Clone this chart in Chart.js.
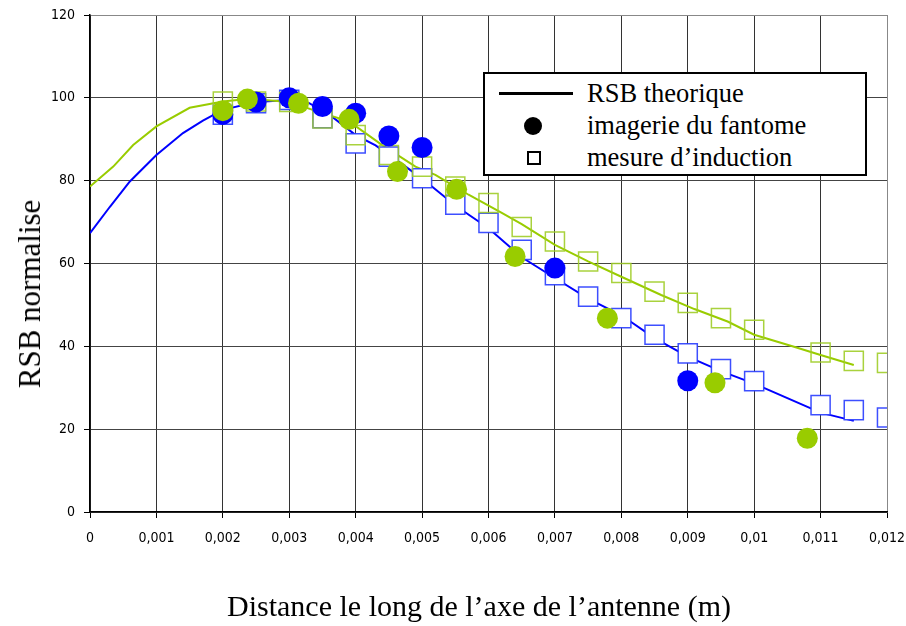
<!DOCTYPE html>
<html>
<head>
<meta charset="utf-8">
<script src="https://cdn.jsdelivr.net/npm/chart.js@4.4.1/dist/chart.umd.min.js"></script>
<style>
    body { margin: 0; background: #fff; }
    #wrap { position: relative; width: 906px; height: 626px; }
    .serif { font-family: 'Liberation Serif', 'Times New Roman', serif; color: #000; position: absolute; white-space: nowrap; }
    #ytitle { font-size: 31px; left: 30px; top: 294px; transform: translate(-50%, -50%) rotate(-90deg); }
    #xtitle { font-size: 30px; left: 479px; top: 606px; transform: translate(-50%, -50%); }
    #legend { position: absolute; left: 483px; top: 72px; width: 380px; height: 100px; border: 2px solid #000; background: #fff; }
    #legend .row { position: absolute; left: 102px; font-size: 26.5px; line-height: 26px; }
</style>
</head>
<body>
<div id="wrap">
    <canvas id="rsbChart" width="906" height="626"></canvas>
    <div id="ytitle" class="serif">RSB normalise</div>
    <div id="xtitle" class="serif">Distance le long de l’axe de l’antenne (m)</div>
    <div id="legend">
        <div style="position:absolute;left:14px;top:18px;width:74px;height:3px;background:#000"></div>
        <div style="position:absolute;left:39px;top:43px;width:18px;height:18px;border-radius:50%;background:#000"></div>
        <div style="position:absolute;left:42px;top:77px;width:10px;height:10px;border:2px solid #000"></div>
        <div class="row serif" style="top:6px">RSB theorique</div>
        <div class="row serif" style="top:38px">imagerie du fantome</div>
        <div class="row serif" style="top:70px">mesure d’induction</div>
    </div>
</div>
<script>
// Theoretical SNR curves
const theoBleuX = [0, 0.0003, 0.0006, 0.001, 0.0014, 0.0017, 0.002, 0.0025, 0.003, 0.0033, 0.0036, 0.004, 0.0043, 0.0047, 0.005, 0.0055, 0.006, 0.0065, 0.007, 0.0075, 0.008, 0.0085, 0.009, 0.0095, 0.01, 0.0105, 0.011, 0.0115];
const theoBleuY = [67.3, 73.7, 79.8, 86.2, 91.5, 94.5, 97.1, 99, 99.5, 98.7, 96, 91, 88.5, 84, 80.5, 74, 68.5, 61.5, 56.5, 51.5, 47.5, 42, 37.5, 34, 31, 27.5, 24, 22];
const theoVertX = [0, 0.00035, 0.00065, 0.001, 0.0015, 0.002, 0.0024, 0.003, 0.0035, 0.0039, 0.0044, 0.0049, 0.0052, 0.0057, 0.0062, 0.0065, 0.007, 0.0075, 0.008, 0.0086, 0.0091, 0.0096, 0.01, 0.0106, 0.011, 0.0115];
const theoVertY = [78.6, 83.4, 88.6, 93.1, 97.6, 99.1, 99.8, 99, 96.3, 94.3, 88.6, 83.4, 81.4, 76.6, 72.2, 69.5, 64.5, 60.5, 56.8, 52.4, 49, 46, 42.8, 39.9, 37.9, 35.5];

// Induction measurements (squares)
const inductionX = [0.002, 0.0025, 0.003, 0.0035, 0.004, 0.0045, 0.005, 0.0055, 0.006, 0.0065, 0.007, 0.0075, 0.008, 0.0085, 0.009, 0.0095, 0.01, 0.011, 0.0115, 0.012];
const inductionBleu = [95.9, 98.7, 99.5, 95.1, 89, 85.8, 80.6, 74.2, 69.8, 63.3, 57.2, 52, 46.8, 42.8, 38.3, 34.5, 31.6, 25.8, 24.6, 22.8];
const inductionVert = [99.1, 99.1, 99, 95, 91, 86.2, 83.4, 78.6, 74.6, 68.8, 65.3, 60.5, 57.7, 53.2, 50.5, 46.8, 44, 38.5, 36.5, 36];

// Phantom imaging (dots)
const fantomeBleuX = [0.002, 0.0025, 0.003, 0.0035, 0.004, 0.0045, 0.005, 0.007, 0.009];
const fantomeBleuY = [96, 99, 100, 97.9, 96.3, 90.8, 88, 58.9, 31.7];
const fantomeVertX = [0.002, 0.00237, 0.00314, 0.0039, 0.00463, 0.00552, 0.0064, 0.00779, 0.00941, 0.0108];
const fantomeVertY = [96.9, 99.7, 98.7, 94.8, 82.2, 77.9, 61.7, 46.8, 31.2, 17.8];

const BLEU = '#0000ff';
const VERT = '#99cc00';

function pts(xs, ys) {
    return xs.map((x, i) => ({ x: x, y: ys[i] }));
}

const tickFont = { family: "'Liberation Sans Narrow', 'Arial Narrow', 'DejaVu Sans Condensed', sans-serif", size: 14 };

const ctx = document.getElementById('rsbChart').getContext('2d');
new Chart(ctx, {
    type: 'scatter',
    data: {
        datasets: [
            { data: pts(theoBleuX, theoBleuY), showLine: true, borderColor: BLEU, borderWidth: 2, pointRadius: 0, order: 10 },
            { data: pts(theoVertX, theoVertY), showLine: true, borderColor: VERT, borderWidth: 2, pointRadius: 0, order: 9 },
            { data: pts(inductionX, inductionBleu), pointStyle: 'rect', pointRadius: 13.5, borderColor: 'rgba(40,60,255,0.9)', borderWidth: 1.5, backgroundColor: '#fff', order: 8 },
            { data: pts(inductionX, inductionVert), pointStyle: 'rect', pointRadius: 13.5, borderColor: 'rgba(160,205,40,0.9)', borderWidth: 1.5, backgroundColor: 'rgba(255,255,255,0)', order: 7 },
            { data: pts(fantomeBleuX, fantomeBleuY), pointStyle: 'circle', pointRadius: 10.5, borderWidth: 0, backgroundColor: BLEU, order: 6 },
            { data: pts(fantomeVertX, fantomeVertY), pointStyle: 'circle', pointRadius: 10.5, borderWidth: 0, backgroundColor: VERT, order: 5 }
        ]
    },
    options: {
        responsive: false,
        animation: false,
        layout: { padding: { top: 15, right: 19, left: 0, bottom: 0 } },
        plugins: { legend: { display: false }, tooltip: { enabled: false } },
        scales: {
            x: {
                type: 'linear',
                min: 0,
                max: 0.012,
                afterFit: (scale) => { scale.height = 114; scale.paddingLeft = 0; scale.paddingRight = 0; },
                border: { color: '#000', width: 1.5 },
                grid: {
                    color: (c) => c.index === 12 ? '#888' : '#333',
                    lineWidth: 1,
                    tickLength: 6,
                    tickColor: '#000'
                },
                ticks: {
                    stepSize: 0.001,
                    color: '#000',
                    font: tickFont,
                    padding: 12,
                    maxRotation: 0,
                    callback: (v) => Number(v.toFixed(4)).toString().replace('.', ',')
                }
            },
            y: {
                min: 0,
                max: 120,
                afterFit: (scale) => { scale.width = 90; scale.paddingTop = 0; scale.paddingBottom = 0; },
                border: { color: '#000', width: 1.5 },
                grid: {
                    color: (c) => c.index === 6 ? '#888' : '#444',
                    lineWidth: 1,
                    tickLength: 6,
                    tickColor: '#000'
                },
                ticks: {
                    stepSize: 20,
                    color: '#000',
                    font: tickFont,
                    padding: 9
                }
            }
        }
    }
});
</script>
</body>
</html>
